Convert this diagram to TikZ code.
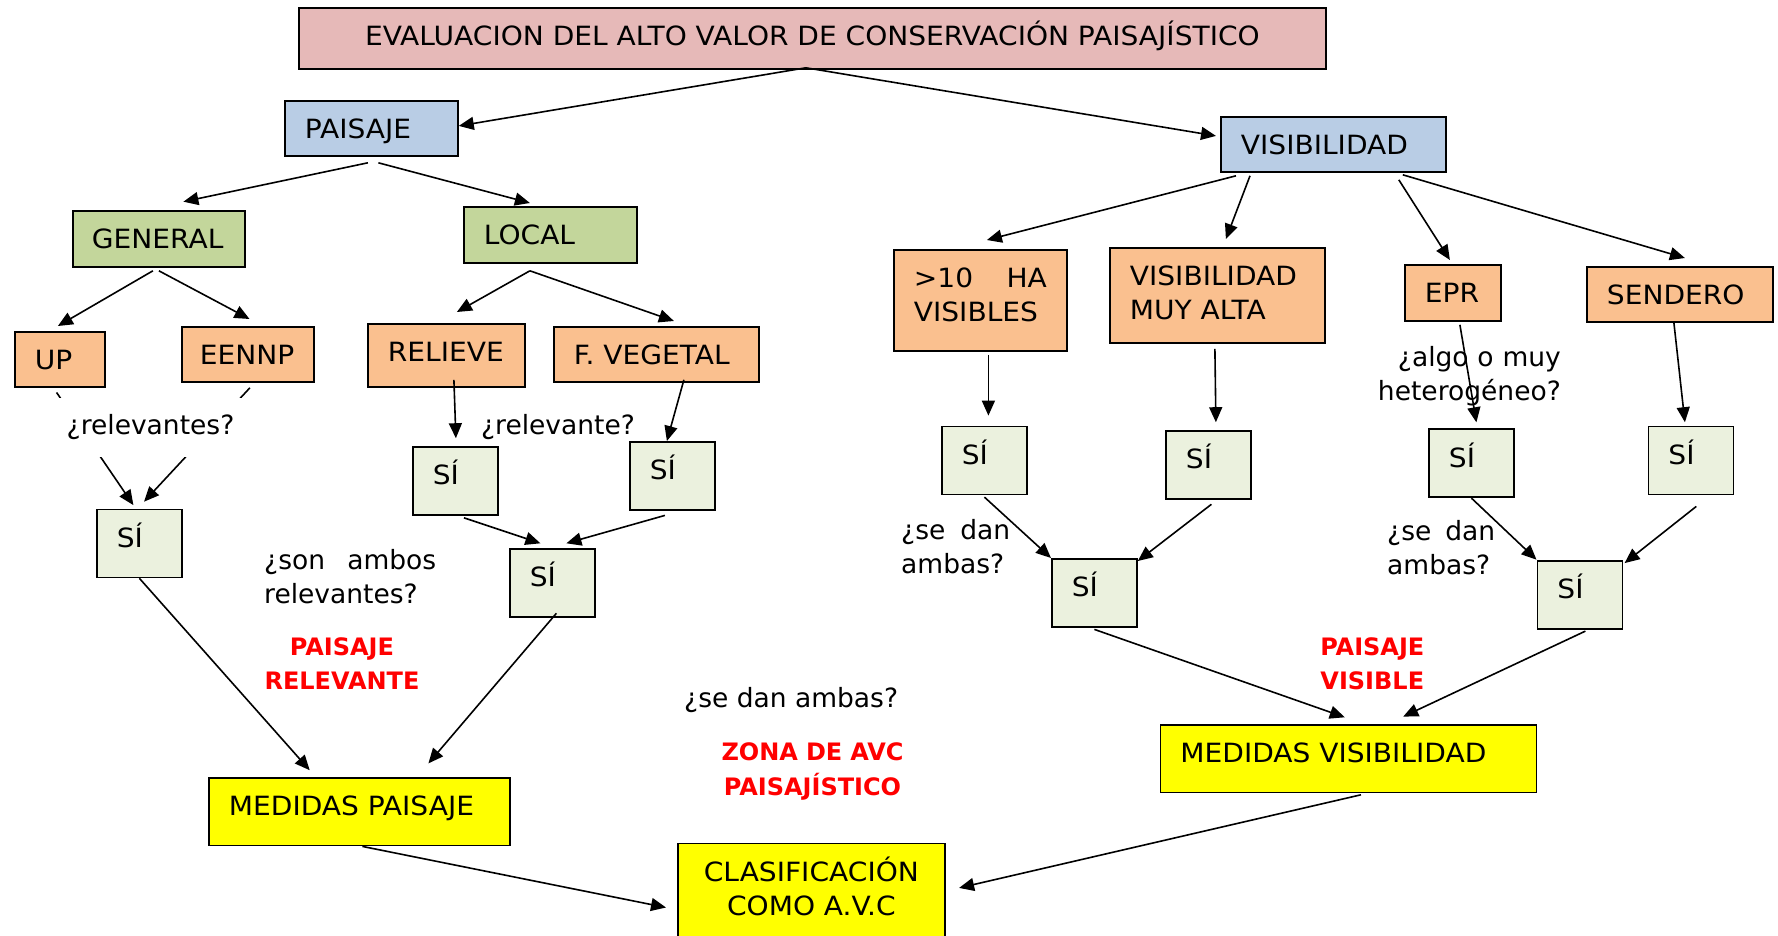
\documentclass[tikz,border=0pt]{standalone}
\usepackage{fontspec}
\setmainfont{DejaVu Sans}
\newfontfamily\mayus{DejaVu Sans}[FakeStretch=1.06]
\usepackage{tikz}
\usetikzlibrary{arrows.meta}
\definecolor{rosa}{HTML}{E6B9B8}
\definecolor{azul}{HTML}{B9CDE5}
\definecolor{verde}{HTML}{C3D69B}
\definecolor{naranja}{HTML}{FAC08F}
\definecolor{verdeclaro}{HTML}{EBF1DE}
\definecolor{amarillo}{HTML}{FFFF00}

\begin{document}
\begin{tikzpicture}[x=1pt,y=-1pt,font=\fontsize{26.5}{34}\selectfont,
	caja/.style={draw,line width=1.8pt,anchor=north west,inner xsep=20pt,inner ysep=0pt,text height=38pt,align=left,font=\fontsize{26.5}{34}\mayus},
	si/.style={caja,fill=verdeclaro,text width=45pt,text depth=30pt},
	flecha/.style={line width=1.6pt,-{Triangle[length=15pt,width=13pt]}},
	texto/.style={inner sep=0pt,align=left},
	rojo/.style={inner sep=0pt,align=center,anchor=base,text=red,font=\fontsize{24}{34.5}\selectfont\bfseries}]
	\path[use as bounding box,fill=white] (0,0) rectangle (1778,935);

	\node[caja,fill=rosa,text width=987pt,text depth=23pt,align=center] (titulo) at (298,7) {EVALUACION DEL ALTO VALOR DE CONSERVACIÓN PAISAJÍSTICO};
	\node[caja,fill=azul,text width=133pt,text depth=17pt] (paisaje) at (284,100) {PAISAJE};
	\node[caja,fill=azul,text width=185pt,text depth=17pt] (visib) at (1220,116) {VISIBILIDAD};
	\node[caja,fill=verde,text width=134pt,inner xsep=19pt,text depth=18pt] (general) at (72,210) {GENERAL};
	\node[caja,fill=verde,text width=133pt,text depth=18pt] (local) at (463,206) {LOCAL};
	\node[caja,fill=naranja,text width=50pt,text depth=17pt] (up) at (14,331) {UP};
	\node[caja,fill=naranja,text width=96pt,inner xsep=18pt,text depth=17pt] (eennp) at (181,326) {EENNP};
	\node[caja,fill=naranja,text width=117pt,text depth=25pt] (relieve) at (367,323) {RELIEVE};
	\node[caja,fill=naranja,text width=165pt,text depth=17pt] (fveg) at (553,326) {F. VEGETAL};
	\node[caja,fill=naranja,text width=133pt,text depth=63pt] (diez) at (893,249) {>10\hfill HA\\VISIBLES};
	\node[caja,fill=naranja,text width=175pt,text depth=57pt] (muyalta) at (1109,247) {VISIBILIDAD\\MUY ALTA};
	\node[caja,fill=naranja,text width=56pt,text depth=18pt] (epr) at (1404,264) {EPR};
	\node[caja,fill=naranja,text width=146pt,text depth=17pt] (sendero) at (1586,266) {SENDERO};

	\node[si] (siA) at (96,508.5) {SÍ};
	\node[si] (siB) at (412,446) {SÍ};
	\node[si] (siC) at (629,441) {SÍ};
	\node[si] (siD) at (509,547.7) {SÍ};
	\node[si] (siE) at (941,425.6) {SÍ};
	\node[si] (siF) at (1165,430) {SÍ};
	\node[si] (siG) at (1428,428.3) {SÍ};
	\node[si] (siH) at (1647.5,425.6) {SÍ};
	\node[si] (siI) at (1051,558) {SÍ};
	\node[si] (siJ) at (1536.5,559.7) {SÍ};

	\node[caja,fill=amarillo,text width=261pt,text depth=29.6pt] (medpai) at (208,777) {MEDIDAS PAISAJE};
	\node[caja,fill=amarillo,text width=336pt,text depth=29.6pt] (medvis) at (1159.5,724) {MEDIDAS VISIBILIDAD};
	\node[caja,fill=amarillo,text width=227pt,text depth=70pt,align=center] (clasif) at (677,842.5) {CLASIFICACIÓN\\COMO A.V.C};

	\node[texto,anchor=base] (relevante) at (558,434) {¿relevante?};
	\node[texto,anchor=base west,text width=172pt] (ambos) at (264,569) {¿son\hfill ambos\\relevantes?};
	\node[rojo,text width=200pt] (paisrel) at (342,655.2) {PAISAJE\\RELEVANTE};
	\node[texto,anchor=base west] (sedan) at (684,707) {¿se dan ambas?};
	\node[rojo,text width=220pt] (zona) at (812.5,760.6) {ZONA DE AVC\\PAISAJÍSTICO};
	\node[texto,anchor=base east,text width=185pt,align=right] (algo) at (1561,366) {¿algo o muy\\heterogéneo?};
	\node[texto,anchor=base west,text width=109pt] (sedanA) at (901,539.2) {¿se\hfill dan\\ambas?};
	\node[texto,anchor=base west,text width=108pt] (sedanB) at (1387,540.6) {¿se\hfill dan\\ambas?};
	\node[rojo,text width=160pt] (paisvis) at (1372.3,655.2) {PAISAJE\\VISIBLE};

	\draw[flecha] ([xshift=-6.5pt,yshift=2pt]titulo.south) -- ([yshift=2.5pt]paisaje.east);
	\draw[flecha] ([xshift=-6.5pt,yshift=2pt]titulo.south) -- ([xshift=-4pt,yshift=8.5pt]visib.west);
	\draw[flecha] ([xshift=-3.5pt,yshift=-6pt]paisaje.south) -- ([xshift=24.5pt,yshift=8.3pt]general.north);
	\draw[flecha] ([xshift=7pt,yshift=-6pt]paisaje.south) -- ([xshift=-20.5pt,yshift=3pt]local.north);
	\draw[flecha] ([xshift=-6pt,yshift=-3pt]general.south) -- ([xshift=-2pt,yshift=5pt]up.north);
	\draw[flecha] ([yshift=-3pt]general.south) -- ([xshift=1.6pt,yshift=7pt]eennp.north);
	\draw[flecha] ([xshift=-20.5pt,yshift=-7pt]local.south) -- ([xshift=10.5pt,yshift=11pt]relieve.north);
	\draw[flecha] ([xshift=-20.5pt,yshift=-7pt]local.south) -- ([xshift=17.5pt,yshift=5pt]fveg.north);
	\draw[flecha] ([xshift=-3.3pt,yshift=-4.7pt]up.south) -- ([xshift=-6pt,yshift=3.4pt]siA.north);
	\draw[flecha] ([xshift=2pt,yshift=-5pt]eennp.south) -- ([xshift=4.6pt,yshift=6.8pt]siA.north);
	\draw[flecha] ([xshift=7.5pt,yshift=8pt]relieve.south) -- ([xshift=0.5pt,yshift=7.8pt]siB.north);
	\draw[flecha] ([xshift=27.5pt,yshift=3pt]fveg.south) -- ([xshift=-5.5pt]siC.north);
	\draw[flecha] ([xshift=8.5pt,yshift=-2pt]siB.south) -- ([xshift=-12pt,yshift=4.4pt]siD.north);
	\draw[flecha] ([xshift=-7.5pt,yshift=-4.6pt]siC.south) -- ([xshift=14pt,yshift=4.4pt]siD.north);
	\draw[flecha] (siA.south) -- ([xshift=-49.7pt,yshift=6.8pt]medpai.north);
	\draw[flecha] ([xshift=4pt,yshift=4.2pt]siD.south) -- ([xshift=69pt,yshift=13.6pt]medpai.north);
	\draw[flecha] ([xshift=3pt]medpai.south) -- ([xshift=-11pt,yshift=-65pt]clasif.north west);
	\draw[flecha] ([xshift=12.5pt,yshift=-1.4pt]medvis.south) -- ([xshift=13.3pt,yshift=-45.4pt]clasif.north east);

	\draw[flecha] ([xshift=16pt,yshift=-3pt]visib.south west) -- ([xshift=6.5pt,yshift=9pt]diez.north);
	\draw[flecha] ([xshift=30pt,yshift=-3pt]visib.south west) -- ([xshift=8.5pt,yshift=8pt]muyalta.north);
	\draw[flecha] ([xshift=-48pt,yshift=-7pt]visib.south east) -- ([xshift=-3pt,yshift=4pt]epr.north);
	\draw[flecha] ([xshift=-44pt,yshift=-2pt]visib.south east) -- ([xshift=5pt,yshift=8pt]sendero.north);
	\draw[flecha] ([xshift=8pt,yshift=-3pt]diez.south) -- ([xshift=4pt,yshift=10pt]siE.north);
	\draw[flecha] ([xshift=-2.5pt,yshift=-5pt]muyalta.south) -- ([xshift=7.5pt,yshift=7.8pt]siF.north);
	\draw[flecha] ([xshift=7pt,yshift=-3pt]epr.south) -- ([xshift=5pt,yshift=6pt]siG.north);
	\draw[flecha] ([xshift=-6pt]sendero.south) -- ([xshift=-6pt,yshift=3.4pt]siH.north);
	\draw[flecha] ([yshift=-1.7pt]siE.south) -- (siI.north west);
	\draw[flecha] ([xshift=3pt,yshift=-4.5pt]siF.south) -- ([yshift=-3pt]siI.north east);
	\draw[flecha] (siG.south) -- (siJ.north west);
	\draw[flecha] ([xshift=5.4pt,yshift=-11pt]siH.south) -- ([xshift=1.3pt,yshift=-3.4pt]siJ.north east);
	\draw[flecha] ([yshift=-1.6pt]siI.south) -- ([xshift=-3.6pt,yshift=6.7pt]medvis.north);
	\draw[flecha] ([xshift=5.5pt,yshift=-1.6pt]siJ.south) -- ([xshift=54.8pt,yshift=7.4pt]medvis.north);

	\node[texto,anchor=base,fill=white,inner xsep=9pt,inner ysep=14pt,text height=22pt,text depth=9pt] (relevantes) at (150.5,434) {¿relevantes?};
\end{tikzpicture}
\end{document}
